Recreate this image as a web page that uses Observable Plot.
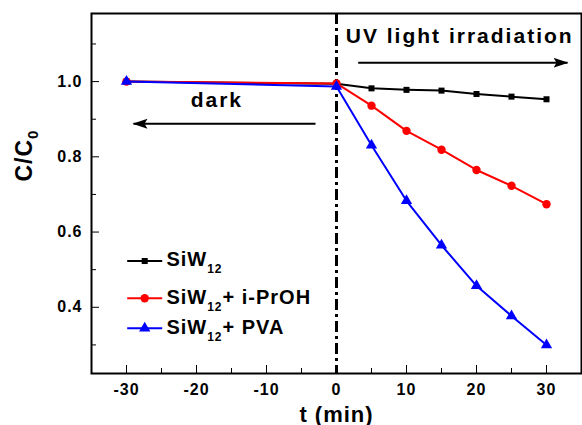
<!DOCTYPE html>
<html><head><meta charset="utf-8">
<script src="https://cdn.jsdelivr.net/npm/d3@7"></script>
<script src="https://cdn.jsdelivr.net/npm/@observablehq/plot@0.6"></script>
<style>
body{margin:0;background:#fff}
#chart svg{font-family:"Liberation Sans",Arial,sans-serif;font-weight:bold;color:#000;background:#fff;letter-spacing:1px}
</style>
</head><body><div id="chart"></div>
<script>
// ---- data ----
const time = [-30, 0, 5, 10, 15, 20, 25, 30];
const siw12 = [1.0, 0.994, 0.982, 0.978, 0.976, 0.967, 0.960, 0.953];
const siw12IPrOH = [1.0, 0.995, 0.936, 0.869, 0.819, 0.765, 0.723, 0.674];
const siw12PVA = [1.0, 0.987, 0.831, 0.683, 0.565, 0.457, 0.377, 0.300];
const seriesNames = ["SiW12", "SiW12+ i-PrOH", "SiW12+ PVA"];
const seriesColors = ["#000000", "#ff0000", "#0000ff"];
const seriesSymbols = ["square", "circle", "triangle"];
const xMajorTicks = [-30, -20, -10, 0, 10, 20, 30];
const xMinorTicks = [-35, -25, -15, -5, 5, 15, 25, 35];
const yMajorTicks = [0.4, 0.6, 0.8, 1.0];
const yMinorTicks = [0.3, 0.5, 0.7, 0.9, 1.1];
const annotationLabels = ["dark", "UV light irradiation"];
const annotationX = [-17.1, 17.6];
const annotationY = [0.95, 1.12];
const arrowFrom = [-3, 3.1];
const arrowTo = [-29, 33];
const arrowY = [0.888, 1.05];

// ---- build tables ----
const seriesValues = [siw12, siw12IPrOH, siw12PVA];
const points = seriesValues.flatMap((vals, s) => vals.map((v, i) => ({t: time[i], c: v, s})));
const ann = annotationLabels.map((label, i) => ({label, x: annotationX[i], y: annotationY[i]}));
const arr = arrowFrom.map((x1, i) => ({x1, x2: arrowTo[i], y: arrowY[i]}));
// legend layout (in data coordinates, inside the frame)
const legX1 = -29.9, legX2 = -24.9, legXm = -27.4, legXt = -24.3;
const legRows = [0.523, 0.424, 0.344];
const legend = seriesNames.map((name, s) => ({name, s, y: legRows[s]}));

const marks = [
  Plot.frame({strokeWidth: 2}),
  Plot.ruleX([0], {strokeWidth: 3, strokeDasharray: "11,4,3,4"}),
  Plot.axisX({ticks: xMinorTicks, tickSize: -5, tickFormat: () => "", label: null}),
  Plot.axisX({ticks: xMajorTicks, tickSize: -8, tickFormat: () => "", label: null}),
  Plot.axisX({ticks: xMajorTicks, tickSize: 0, tickPadding: 10, fontSize: 16, tickFormat: d => String(d), label: null}),
  Plot.axisY({ticks: yMinorTicks, tickSize: -5, tickFormat: () => "", label: null}),
  Plot.axisY({ticks: yMajorTicks, tickSize: -8, tickFormat: () => "", label: null}),
  Plot.axisY({ticks: yMajorTicks, tickSize: 0, tickPadding: 9, fontSize: 16, tickFormat: d3.format(".1f"), label: null}),
];
seriesValues.forEach((vals, s) => {
  const pts = points.filter(p => p.s === s);
  marks.push(Plot.line(pts, {x: "t", y: "c", stroke: seriesColors[s], strokeWidth: 2}));
  marks.push(Plot.dot(pts, {x: "t", y: "c", fill: seriesColors[s], symbol: seriesSymbols[s], r: s === 0 ? 3.4 : 4.2, stroke: "none"}));
});
legend.forEach(d => {
  marks.push(Plot.link([d], {x1: () => legX1, x2: () => legX2, y1: "y", y2: "y", stroke: seriesColors[d.s], strokeWidth: 2}));
  marks.push(Plot.dot([d], {x: () => legXm, y: "y", fill: seriesColors[d.s], symbol: seriesSymbols[d.s], r: d.s === 0 ? 3.4 : 4.2, stroke: "none"}));
  marks.push(Plot.text([d], {x: () => legXt, y: "y", text: "name", textAnchor: "start", fontSize: 20, dy: -1}));
});
marks.push(Plot.text(ann, {x: "x", y: "y", text: "label", fontSize: 21}));
marks.push(Plot.link(arr, {x1: "x1", x2: "x2", y1: "y", y2: "y", stroke: "#000", strokeWidth: 2}));
marks.push(Plot.text(["t (min)"], {frameAnchor: "bottom", dy: 48, lineAnchor: "bottom", fontSize: 22}));
marks.push(Plot.text(["C/C0"], {frameAnchor: "left", rotate: -90, dx: -67, dy: -12, fontSize: 23}));

const chart = Plot.plot({
  width: 582, height: 425,
  marginLeft: 91, marginRight: 1, marginTop: 13, marginBottom: 52,
  x: {domain: [-35, 35]},
  y: {domain: [0.224, 1.181]},
  marks
});
document.getElementById("chart").append(chart);

// ---- post-processing: subscripts, arrowheads ----
const svg = d3.select(chart);
svg.selectAll("text").each(function() {
  const t = d3.select(this);
  const s = this.textContent;
  if (s.startsWith("SiW12")) {
    t.text("");
    t.append("tspan").text("SiW");
    t.append("tspan").text("12").attr("font-size", 12).attr("dy", 7);
    if (s.length > 5) t.append("tspan").text(s.slice(5)).attr("dy", -7);
  } else if (s === "C/C0") {
    t.text("");
    t.append("tspan").text("C/C");
    t.append("tspan").text("0").attr("font-size", 15).attr("dy", 6);
  } else if (s === "dark" || s === "UV light irradiation") {
    t.style("letter-spacing", "2px");
  }
});
const defs = svg.append("defs");
defs.append("marker").attr("id", "ahead").attr("markerUnits", "userSpaceOnUse")
  .attr("markerWidth", 18).attr("markerHeight", 12).attr("refX", 14).attr("refY", 5)
  .attr("orient", "auto")
  .append("path").attr("d", "M0,0L15,5L0,10L3,5Z").attr("fill", "#000");
svg.selectAll('g[aria-label="link"] path').each(function() {
  const p = d3.select(this);
  if (p.attr("stroke") === "#000" || d3.select(this.parentNode).attr("stroke") === "#000") p.attr("marker-end", "url(#ahead)");
});
</script>
</body></html>
